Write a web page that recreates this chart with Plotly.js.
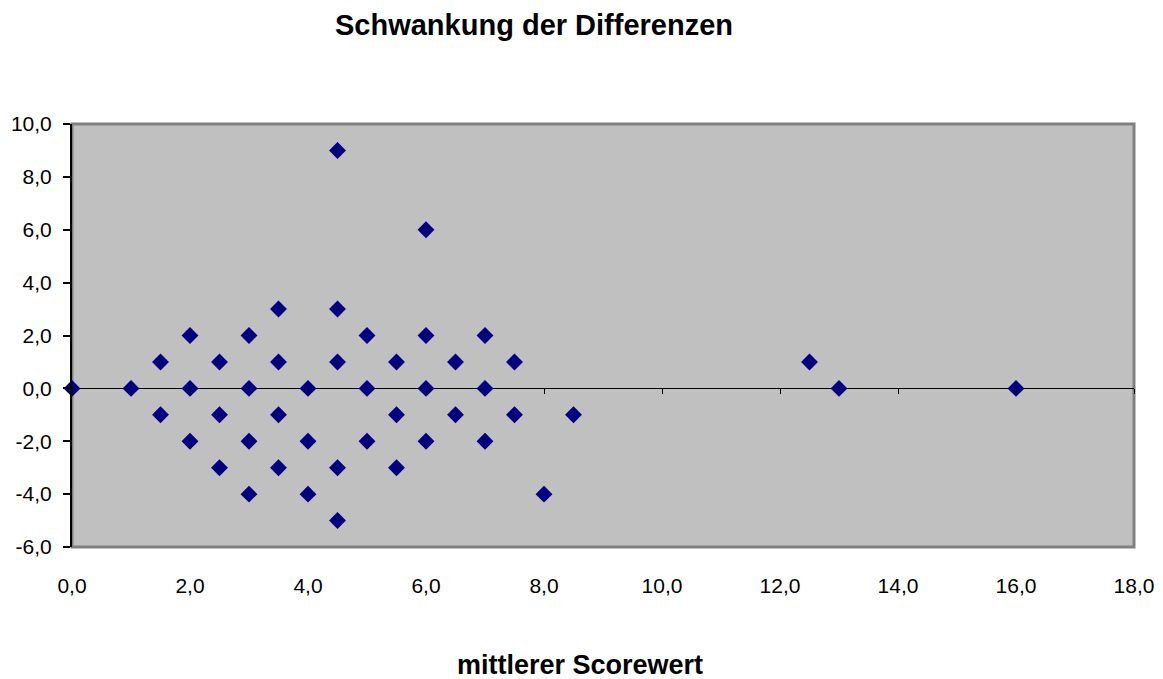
<!DOCTYPE html>
<html><head><meta charset="utf-8">
<script src="https://cdn.plot.ly/plotly-3.0.1.min.js"></script>
<style>html,body{margin:0;padding:0;background:#fff}</style>
</head><body>
<div id="chart" style="width:1163px;height:679px"></div>
<script>
const meanScore = [0, 1, 1.5, 1.5, 2, 2, 2, 2.5, 2.5, 2.5, 3, 3, 3, 3, 3.5, 3.5, 3.5, 3.5, 4, 4, 4,
  4.5, 4.5, 4.5, 4.5, 4.5, 5, 5, 5, 5.5, 5.5, 5.5, 6, 6, 6, 6, 6.5, 6.5, 7, 7, 7, 7.5, 7.5, 8, 8.5, 12.5, 13, 16];
const difference = [0, 0, 1, -1, 2, 0, -2, 1, -1, -3, 2, 0, -2, -4, 3, 1, -1, -3, 0, -2, -4,
  9, 3, 1, -3, -5, 2, 0, -2, 1, -1, -3, 6, 2, 0, -2, 1, -1, 2, 0, -2, 1, -1, -4, -1, 1, 0, 0];
const yTickVals = [-6, -4, -2, 0, 2, 4, 6, 8, 10];
const yTickText = ['-6,0', '-4,0', '-2,0', '0,0', '2,0', '4,0', '6,0', '8,0', '10,0'];
const xTickVals = [0, 2, 4, 6, 8, 10, 12, 14, 16, 18];
const xTickText = ['0,0', '2,0', '4,0', '6,0', '8,0', '10,0', '12,0', '14,0', '16,0', '18,0'];
const chartTitle = 'Schwankung der Differenzen';
const xTitle = 'mittlerer Scorewert';

const font = {family: 'Arial, "Liberation Sans", sans-serif', color: '#000'};
const traces = [
  {x: meanScore, y: difference, type: 'scatter', mode: 'markers', cliponaxis: false,
   marker: {symbol: 'diamond', size: 13, color: '#000080', line: {width: 0}},
   hoverinfo: 'x+y', showlegend: false},
  {x: [], y: [], xaxis: 'x2', type: 'scatter', mode: 'markers', showlegend: false}
];
const layout = {
  width: 1163, height: 679,
  margin: {l: 72, r: 29, t: 124, b: 132},
  paper_bgcolor: '#ffffff', plot_bgcolor: '#c0c0c0',
  separators: ',.',
  font: Object.assign({size: 21}, font),
  showlegend: false,
  xaxis: {range: [0, 18], tickmode: 'array', tickvals: xTickVals, ticktext: xTickText,
          showgrid: false, zeroline: false, showline: false, ticks: '', fixedrange: true,
          ticklabelstandoff: 24,
          tickfont: Object.assign({size: 21}, font)},
  xaxis2: {range: [0, 18], tickmode: 'array', tickvals: xTickVals, overlaying: 'x', anchor: 'free', position: 0.375,
           showticklabels: false, ticks: 'outside', ticklen: 5, tickcolor: '#000', tickwidth: 1,
           showgrid: false, zeroline: false, showline: false, side: 'bottom'},
  yaxis: {range: [-6, 10], tickmode: 'array', tickvals: yTickVals, ticktext: yTickText,
          showgrid: false, zeroline: true, zerolinecolor: '#000', zerolinewidth: 1.5,
          showline: true, linecolor: '#000', linewidth: 2, ticks: 'outside', ticklen: 7,
          tickcolor: '#000', tickwidth: 2, fixedrange: true, ticklabelstandoff: 7,
          tickfont: Object.assign({size: 21}, font)},
  shapes: [
    {type: 'rect', xref: 'paper', yref: 'paper', x0: 0, x1: 1, y0: 0, y1: 1,
     line: {color: '#808080', width: 3}, fillcolor: 'rgba(0,0,0,0)', layer: 'below'}
  ],
  annotations: [
    {text: '<b>' + chartTitle + '</b>', xref: 'paper', yref: 'paper', x: (533.5 - 72) / 1062, y: 1,
     yshift: 99, xanchor: 'center', yanchor: 'middle', showarrow: false,
     font: Object.assign({size: 29}, font)},
    {text: '<b>' + xTitle + '</b>', xref: 'paper', yref: 'paper', x: (580 - 72) / 1062, y: 0,
     yshift: -118, xanchor: 'center', yanchor: 'middle', showarrow: false,
     font: Object.assign({size: 27}, font)}
  ]
};
Plotly.newPlot('chart', traces, layout, {displayModeBar: false, staticPlot: true});
</script>
</body></html>
